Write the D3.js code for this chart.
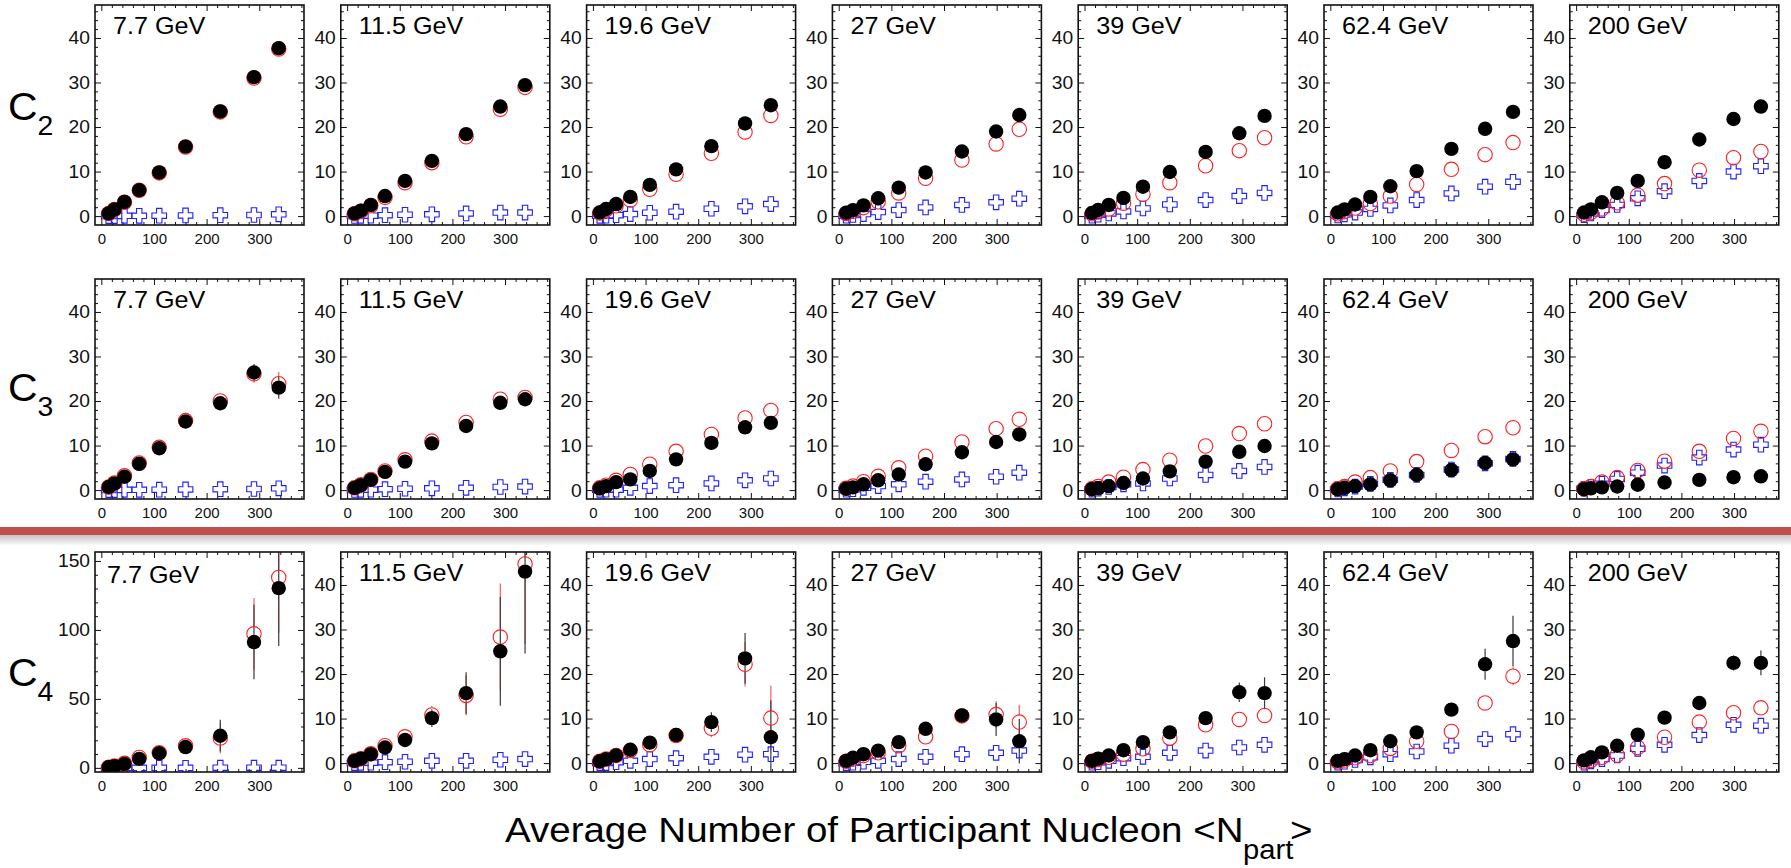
<!DOCTYPE html>
<html>
<head>
<meta charset="utf-8">
<script src="https://cdn.jsdelivr.net/npm/d3@7"></script>
<style>
  html, body { margin: 0; padding: 0; background: #fff; }
  svg { display: block; font-family: "Liberation Sans", Arial, Helvetica, sans-serif; }
</style>
</head>
<body>
<svg id="chart" width="1791" height="868"></svg>
<script>
// ----- data: cumulants of the (net-)proton distribution vs <Npart> -----
const energies = ["7.7 GeV", "11.5 GeV", "19.6 GeV", "27 GeV", "39 GeV", "62.4 GeV", "200 GeV"];

// <Npart> per centrality class, peripheral -> central
const npart = [
  [14, 25, 44, 72, 110, 160, 226, 290, 337],
  [14, 26, 45, 72, 110, 161, 226, 291, 338],
  [13, 25, 44, 71, 108, 158, 225, 289, 338],
  [14, 27, 47, 75, 114, 165, 234, 299, 343],
  [14, 26, 46, 74, 111, 162, 230, 294, 342],
  [14, 27, 47, 76, 114, 164, 230, 294, 347],
  [15, 28, 49, 78, 117, 168, 234, 299, 351]
];

// C2
const c2Net = [
  [0.6, 1.5, 3.2, 5.8, 9.8, 15.6, 23.5, 31.2, 37.7],
  [0.6, 1.2, 2.5, 4.5, 7.9, 12.4, 18.4, 24.6, 29.4],
  [0.8, 1.6, 2.7, 4.3, 7.0, 10.5, 15.7, 20.8, 24.9],
  [0.75, 1.35, 2.4, 4.0, 6.4, 9.8, 14.5, 19.0, 22.7],
  [0.7, 1.4, 2.5, 4.1, 6.6, 9.9, 14.4, 18.6, 22.5],
  [0.8, 1.5, 2.6, 4.3, 6.7, 10.1, 15.1, 19.6, 23.4],
  [0.8, 1.5, 3.1, 5.2, 7.9, 12.1, 17.2, 21.8, 24.6]
];
const c2Proton = [
  [0.6, 1.5, 3.1, 5.8, 9.7, 15.5, 23.4, 31.0, 37.5],
  [0.55, 1.1, 2.3, 4.2, 7.5, 12.0, 17.8, 24.0, 28.9],
  [0.7, 1.4, 2.3, 3.6, 6.0, 9.4, 14.1, 18.9, 22.6],
  [0.6, 1.1, 1.9, 3.2, 5.2, 8.5, 12.6, 16.2, 19.5],
  [0.5, 0.9, 1.6, 2.9, 4.9, 7.5, 11.3, 14.7, 17.6],
  [0.5, 1.0, 1.8, 2.8, 4.5, 7.1, 10.5, 13.8, 16.5],
  [0.4, 0.8, 1.6, 3.0, 4.7, 7.3, 10.3, 13.1, 14.5]
];
const c2Antiproton = [
  [0.0, 0.0, 0.05, 0.05, 0.1, 0.15, 0.2, 0.25, 0.4],
  [0.02, 0.05, 0.1, 0.2, 0.3, 0.4, 0.6, 0.8, 0.8],
  [0.05, 0.1, 0.2, 0.45, 0.75, 1.0, 1.65, 2.2, 2.7],
  [0.1, 0.25, 0.45, 0.9, 1.35, 1.95, 2.5, 3.1, 3.9],
  [0.1, 0.3, 0.6, 1.05, 1.7, 2.6, 3.6, 4.5, 5.2],
  [0.15, 0.4, 0.8, 1.6, 2.4, 3.6, 5.1, 6.6, 7.7],
  [0.2, 0.6, 1.35, 2.5, 4.0, 5.6, 7.9, 10.0, 11.2]
];

// C3
const c3Net = [
  [0.7, 1.5, 3.0, 5.9, 9.4, 15.4, 19.5, 26.4, 23.0],
  [0.5, 1.1, 2.3, 4.1, 6.4, 10.5, 14.4, 19.6, 20.4],
  [0.4, 0.9, 1.8, 2.4, 4.3, 6.9, 10.6, 14.1, 15.1],
  [0.3, 0.6, 1.3, 2.2, 3.5, 5.8, 8.5, 10.8, 12.5],
  [0.2, 0.4, 0.9, 1.6, 2.6, 4.2, 6.4, 8.6, 9.9],
  [0.2, 0.5, 0.9, 1.3, 2.2, 3.4, 4.5, 6.1, 6.9],
  [0.2, 0.4, 0.6, 0.8, 1.2, 1.7, 2.3, 2.9, 3.1]
];
const c3Proton = [
  [0.7, 1.6, 3.2, 6.1, 9.6, 15.6, 20.0, 26.1, 23.9],
  [0.5, 1.2, 2.4, 4.3, 6.8, 11.0, 15.2, 20.4, 20.8],
  [0.5, 1.1, 2.2, 3.5, 5.8, 8.7, 12.5, 16.2, 17.9],
  [0.4, 0.9, 1.9, 3.1, 5.0, 7.6, 10.8, 13.8, 15.9],
  [0.3, 0.8, 1.8, 2.9, 4.6, 6.7, 9.9, 12.7, 14.9],
  [0.3, 0.8, 1.8, 2.8, 4.3, 6.4, 8.9, 12.0, 14.0],
  [0.3, 0.8, 1.8, 2.8, 4.4, 6.5, 8.7, 11.6, 13.2]
];
const c3Antiproton = [
  [0.0, 0.0, 0.05, 0.05, 0.1, 0.15, 0.2, 0.25, 0.4],
  [0.02, 0.05, 0.1, 0.2, 0.3, 0.4, 0.5, 0.7, 0.8],
  [0.05, 0.1, 0.1, 0.5, 0.9, 1.1, 1.5, 2.2, 2.6],
  [0.1, 0.2, 0.5, 0.9, 1.3, 1.9, 2.4, 3.0, 3.9],
  [0.1, 0.3, 0.7, 1.3, 1.5, 2.6, 3.4, 4.3, 5.2],
  [0.15, 0.4, 0.8, 1.4, 2.3, 3.4, 4.6, 6.0, 7.0],
  [0.3, 0.7, 1.4, 2.5, 3.9, 5.5, 7.3, 9.1, 10.2]
];
const c3NetErr = [
  [0.05, 0.1, 0.2, 0.3, 0.5, 0.8, 1.2, 1.9, 2.5],
  [0.05, 0.1, 0.1, 0.2, 0.3, 0.5, 0.8, 1.1, 1.4],
  [0.05, 0.1, 0.1, 0.2, 0.3, 0.4, 0.6, 0.8, 1.0],
  [0.05, 0.1, 0.1, 0.2, 0.3, 0.4, 0.5, 0.7, 0.9],
  [0.05, 0.1, 0.1, 0.2, 0.2, 0.3, 0.4, 0.6, 0.7],
  [0.05, 0.1, 0.1, 0.2, 0.2, 0.3, 0.4, 0.6, 0.8],
  [0.05, 0.05, 0.1, 0.1, 0.2, 0.2, 0.3, 0.4, 0.5]
];
const c3ProtonErr = [
  [0.05, 0.1, 0.2, 0.3, 0.5, 0.8, 1.2, 2.0, 2.6],
  [0.05, 0.1, 0.1, 0.2, 0.3, 0.5, 0.8, 1.1, 1.4],
  [0.05, 0.1, 0.1, 0.2, 0.3, 0.4, 0.6, 0.8, 1.0],
  [0.05, 0.1, 0.1, 0.2, 0.3, 0.4, 0.5, 0.7, 0.9],
  [0.05, 0.1, 0.1, 0.2, 0.2, 0.3, 0.4, 0.5, 0.6],
  [0.05, 0.1, 0.1, 0.2, 0.2, 0.3, 0.4, 0.5, 0.6],
  [0.05, 0.05, 0.1, 0.1, 0.2, 0.2, 0.3, 0.3, 0.4]
];

// C4
const c4Net = [
  [0.5, 1.2, 2.9, 6.5, 10.6, 15.1, 23.3, 91.2, 130.3],
  [0.5, 1.0, 2.0, 3.5, 5.2, 10.1, 15.7, 25.1, 43.0],
  [0.4, 0.9, 1.7, 3.0, 4.6, 6.3, 9.2, 23.5, 5.8],
  [0.5, 1.2, 2.0, 2.8, 4.7, 7.7, 10.7, 9.8, 4.9],
  [0.5, 1.0, 1.7, 2.9, 4.7, 6.9, 10.1, 15.9, 15.7],
  [0.5, 0.9, 1.7, 2.9, 4.9, 6.9, 12.0, 22.2, 27.4],
  [0.6, 1.3, 2.4, 3.9, 6.4, 10.2, 13.5, 22.5, 22.5]
];
const c4Proton = [
  [0.5, 1.3, 3.3, 7.5, 11.0, 16.0, 21.6, 97.2, 138.0],
  [0.5, 1.0, 2.1, 3.9, 5.9, 10.8, 15.2, 28.3, 44.7],
  [0.4, 0.9, 1.7, 2.8, 4.1, 6.2, 7.8, 22.2, 10.1],
  [0.4, 0.9, 1.7, 2.3, 3.9, 5.9, 10.6, 10.9, 9.2],
  [0.4, 0.8, 1.3, 2.0, 3.2, 5.6, 8.6, 9.8, 10.7],
  [0.3, 0.7, 1.2, 1.7, 3.3, 4.9, 7.1, 13.5, 19.5],
  [0.3, 0.6, 1.3, 1.8, 3.5, 5.8, 9.2, 11.3, 12.4]
];
const c4Antiproton = [
  [0.0, 0.0, 0.0, 0.0, 0.05, 0.05, 0.1, 0.1, 0.15],
  [0.0, 0.05, 0.1, 0.2, 0.3, 0.5, 0.5, 0.75, 0.9],
  [0.0, 0.0, 0.2, 0.5, 0.9, 1.1, 1.4, 1.9, 2.0],
  [0.0, 0.1, 0.3, 0.5, 0.9, 1.4, 2.0, 2.3, 2.8],
  [0.1, 0.2, 0.5, 1.1, 1.4, 2.3, 2.8, 3.5, 4.1],
  [0.1, 0.3, 0.7, 1.3, 2.0, 2.6, 3.9, 5.4, 6.5],
  [0.1, 0.4, 0.9, 1.7, 3.2, 4.1, 6.3, 8.6, 8.4]
];
const c4NetErr = [
  [0.3, 0.6, 1.2, 2.0, 3.0, 4.0, 11.5, 27.0, 42.0],
  [0.1, 0.2, 0.4, 0.7, 1.0, 2.0, 4.7, 12.2, 18.4],
  [0.1, 0.2, 0.3, 0.5, 0.8, 1.0, 2.2, 5.7, 8.3],
  [0.1, 0.2, 0.3, 0.4, 0.6, 1.0, 1.0, 3.7, 5.0],
  [0.1, 0.1, 0.2, 0.3, 0.5, 0.8, 1.0, 2.2, 3.6],
  [0.1, 0.1, 0.2, 0.4, 0.6, 0.8, 1.0, 3.5, 5.7],
  [0.05, 0.1, 0.2, 0.3, 0.4, 0.6, 0.8, 1.7, 2.8]
];
const c4ProtonErr = [
  [0.3, 0.6, 1.2, 2.0, 3.0, 4.0, 11.0, 26.0, 40.0],
  [0.1, 0.2, 0.4, 0.7, 1.0, 2.0, 4.5, 12.0, 18.0],
  [0.1, 0.2, 0.3, 0.5, 0.8, 1.0, 2.0, 5.0, 7.3],
  [0.1, 0.2, 0.3, 0.4, 0.6, 0.9, 1.0, 3.0, 3.9],
  [0.1, 0.1, 0.2, 0.3, 0.4, 0.6, 0.8, 1.0, 1.7],
  [0.1, 0.1, 0.2, 0.3, 0.4, 0.6, 0.8, 1.5, 2.0],
  [0.05, 0.1, 0.1, 0.2, 0.3, 0.4, 0.6, 0.8, 1.0]
];

// axis ticks and titles
const xMajorTicks = [0, 100, 200, 300];
const yMajorTicks = [0, 10, 20, 30, 40];
const yMajorTicksWide = [0, 50, 100, 150];
const rowOrders = ["2", "3", "4"];
const axisTitle = "Average Number of Participant Nucleon <N";
const axisTitleSub = "part";
const axisTitleEnd = ">";

// ----- layout -----
const W = 1791, H = 868;
const panelX0 = 95, panelPitch = 245.8, panelW = 209, panelH = 220;
const rowTop = [5, 279, 552];
const rowLabelBase = [120, 401, 686];
const xDomain = [-12, 385];
const yDomain = [-2, 47.4];
const yDomainWide = [-3, 156.5];
const MARK_R = 7.2;

const svg = d3.select("#chart");
svg.append("rect").attr("width", W).attr("height", H).attr("fill", "#fff");

const defs = svg.append("defs");
const grad = defs.append("linearGradient").attr("id", "sepShadow")
  .attr("x1", 0).attr("y1", 0).attr("x2", 0).attr("y2", 1);
grad.append("stop").attr("offset", 0).attr("stop-color", "#c4c4c4");
grad.append("stop").attr("offset", 1).attr("stop-color", "#ffffff");

const rows = [
  { net: c2Net, prot: c2Proton, anti: c2Antiproton, netErr: null, protErr: null },
  { net: c3Net, prot: c3Proton, anti: c3Antiproton, netErr: c3NetErr, protErr: c3ProtonErr },
  { net: c4Net, prot: c4Proton, anti: c4Antiproton, netErr: c4NetErr, protErr: c4ProtonErr }
];

// horizontally widen text around its anchor
function widen(sel, k) {
  sel.each(function () {
    const t = d3.select(this);
    const x = +t.attr("x") || 0;
    t.attr("x", x / k).attr("transform", `scale(${k},1)`);
  });
}

const crossPath = (s, a) =>
  `M${-a},${-s}H${a}V${-a}H${s}V${a}H${a}V${s}H${-a}V${a}H${-s}V${-a}H${-a}Z`;

// error bar drawn outside the marker only: two segments
function errSegments(cx, cy, yLo, yHi, r) {
  const segs = [];
  if (yHi < cy - r) segs.push([cx, cy - r, cx, yHi]);
  if (yLo > cy + r) segs.push([cx, cy + r, cx, yLo]);
  return segs;
}

let clipId = 0;
rows.forEach((row, r) => {
  energies.forEach((energy, i) => {
    const wide = (r === 2 && i === 0);
    const g = svg.append("g")
      .attr("transform", `translate(${panelX0 + i * panelPitch},${rowTop[r]})`);
    const x = d3.scaleLinear().domain(xDomain).range([0, panelW]);
    const y = d3.scaleLinear().domain(wide ? yDomainWide : yDomain).range([panelH, 0]);

    const yMaj = wide ? yMajorTicksWide : yMajorTicks;
    const yMin = wide ? d3.range(0, yDomainWide[1], 10).filter(v => v % 50)
                      : d3.range(0, yDomain[1], 2).filter(v => v % 10);
    const xMin = d3.range(0, xDomain[1], 20).filter(v => v % 100);

    // minor ticks on all four sides, pointing inward
    const minor = [
      [d3.axisLeft(y).tickValues(yMin), `translate(0,0)`],
      [d3.axisRight(y).tickValues(yMin), `translate(${panelW},0)`],
      [d3.axisBottom(x).tickValues(xMin), `translate(0,${panelH})`],
      [d3.axisTop(x).tickValues(xMin), `translate(0,0)`]
    ];
    minor.forEach(([ax, tr]) => {
      const a = g.append("g").attr("transform", tr)
        .call(ax.tickSize(-3).tickFormat(""));
      a.select(".domain").remove();
      a.selectAll("line").attr("stroke", "#111").attr("stroke-width", 1);
    });

    // major ticks with labels
    const yAxis = g.append("g")
      .call(d3.axisLeft(y).tickValues(yMaj).tickSize(-6).tickPadding(5).tickFormat(d3.format("d")));
    yAxis.select(".domain").remove();
    yAxis.selectAll("line").attr("stroke", "#111");
    yAxis.selectAll("text").attr("font-size", 18.5).attr("fill", "#111")
      .attr("font-family", "Liberation Sans, Arial, sans-serif");
    widen(yAxis.selectAll("text"), 1.04);

    const xAxis = g.append("g").attr("transform", `translate(0,${panelH})`)
      .call(d3.axisBottom(x).tickValues(xMajorTicks).tickSize(-6).tickPadding(8).tickFormat(d3.format("d")));
    xAxis.select(".domain").remove();
    xAxis.selectAll("line").attr("stroke", "#111");
    xAxis.selectAll("text").attr("font-size", 15).attr("fill", "#111")
      .attr("font-family", "Liberation Sans, Arial, sans-serif");

    const rAxis = g.append("g").attr("transform", `translate(${panelW},0)`)
      .call(d3.axisRight(y).tickValues(yMaj).tickSize(-6).tickFormat(""));
    rAxis.select(".domain").remove();
    rAxis.selectAll("line").attr("stroke", "#111");
    const tAxis = g.append("g")
      .call(d3.axisTop(x).tickValues(xMajorTicks).tickSize(-6).tickFormat(""));
    tAxis.select(".domain").remove();
    tAxis.selectAll("line").attr("stroke", "#111");

    // data
    const id = "clip" + (clipId++);
    defs.append("clipPath").attr("id", id)
      .append("rect").attr("width", panelW).attr("height", panelH);
    const plot = g.append("g").attr("clip-path", `url(#${id})`);

    const pts = npart[i].map((n, k) => ({
      n,
      net: row.net[i][k],
      prot: row.prot[i][k],
      anti: row.anti[i][k],
      netErr: row.netErr ? row.netErr[i][k] : 0,
      protErr: row.protErr ? row.protErr[i][k] : 0
    }));

    // error bars
    const protSegs = pts.flatMap(d =>
      errSegments(x(d.n), y(d.prot), y(d.prot - d.protErr), y(d.prot + d.protErr), MARK_R));
    const netSegs = pts.flatMap(d =>
      errSegments(x(d.n), y(d.net), y(d.net - d.netErr), y(d.net + d.netErr), MARK_R));
    plot.selectAll(".eProt").data(protSegs).join("line")
      .attr("x1", s => s[0]).attr("y1", s => s[1]).attr("x2", s => s[2]).attr("y2", s => s[3])
      .attr("stroke", "#ff5a5a").attr("stroke-width", 1.2);
    plot.selectAll(".eNet").data(netSegs).join("line")
      .attr("x1", s => s[0]).attr("y1", s => s[1]).attr("x2", s => s[2]).attr("y2", s => s[3])
      .attr("stroke", "#3a3a3a").attr("stroke-width", 1.2);

    // antiproton: open blue crosses
    plot.selectAll(".anti").data(pts).join("path")
      .attr("transform", d => `translate(${x(d.n)},${y(d.anti)})`)
      .attr("d", crossPath(7.3, 2.7))
      .attr("fill", "none").attr("stroke", "#2020ff").attr("stroke-width", 1.1);

    // proton: open red circles
    plot.selectAll(".prot").data(pts).join("circle")
      .attr("cx", d => x(d.n)).attr("cy", d => y(d.prot)).attr("r", MARK_R)
      .attr("fill", "none").attr("stroke", "#ff2020").attr("stroke-width", 1.1);

    // net-proton: filled black circles
    plot.selectAll(".net").data(pts).join("circle")
      .attr("cx", d => x(d.n)).attr("cy", d => y(d.net)).attr("r", MARK_R)
      .attr("fill", "#000");

    // frame
    g.append("rect").attr("width", panelW).attr("height", panelH)
      .attr("fill", "none").attr("stroke", "#111").attr("stroke-width", 1.6);

    // energy label
    g.append("text")
      .attr("transform", `translate(${wide ? 12 : 18},${wide ? 31 : 29}) scale(1.05,1)`)
      .attr("font-size", 24).attr("fill", "#000")
      .text(energy);
  });

  // row label C_n
  const lab = svg.append("text")
    .attr("transform", `translate(8,${rowLabelBase[r]}) scale(1.05,1)`)
    .attr("font-size", 39).attr("fill", "#000");
  lab.append("tspan").text("C");
  lab.append("tspan").attr("dy", 15).attr("font-size", 27).text(rowOrders[r]);
});

// separator between C3 and C4 rows
svg.append("rect").attr("x", 0).attr("y", 535).attr("width", W).attr("height", 11)
  .attr("fill", "url(#sepShadow)");
svg.append("rect").attr("x", 0).attr("y", 527).attr("width", W).attr("height", 8)
  .attr("fill", "#c0504d");

// x-axis title
svg.append("text")
  .attr("transform", `translate(505,842) scale(1.1,1)`)
  .attr("font-size", 35).attr("fill", "#000")
  .text(axisTitle);
svg.append("text")
  .attr("transform", `translate(1243,859) scale(1.08,1)`)
  .attr("font-size", 27).attr("fill", "#000")
  .text(axisTitleSub);
svg.append("text")
  .attr("transform", `translate(1290,842) scale(1.1,1)`)
  .attr("font-size", 35).attr("fill", "#000")
  .text(axisTitleEnd);
</script>
</body>
</html>
